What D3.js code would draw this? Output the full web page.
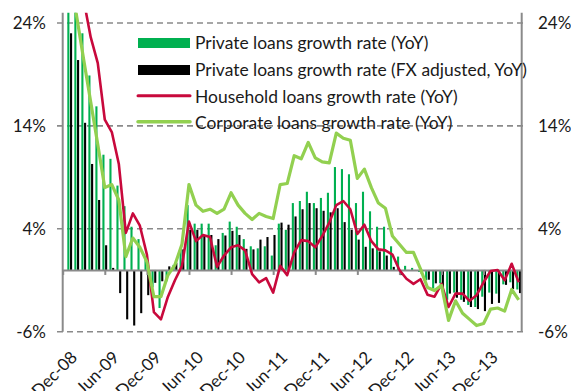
<!DOCTYPE html>
<html><head><meta charset="utf-8">
<script src="https://cdn.jsdelivr.net/npm/d3@7"></script>
<style>
html,body{margin:0;padding:0;background:#fff;}
svg{display:block;}
text{font-family:Lato,"Open Sans",sans-serif;fill:#1a1a1a;}
</style></head><body>
<svg id="chart" width="571" height="391"></svg>
<script>
const months = ["Dec-08","Jan-09","Feb-09","Mar-09","Apr-09","May-09","Jun-09","Jul-09","Aug-09","Sep-09","Oct-09","Nov-09",
"Dec-09","Jan-10","Feb-10","Mar-10","Apr-10","May-10","Jun-10","Jul-10","Aug-10","Sep-10","Oct-10","Nov-10",
"Dec-10","Jan-11","Feb-11","Mar-11","Apr-11","May-11","Jun-11","Jul-11","Aug-11","Sep-11","Oct-11","Nov-11",
"Dec-11","Jan-12","Feb-12","Mar-12","Apr-12","May-12","Jun-12","Jul-12","Aug-12","Sep-12","Oct-12","Nov-12",
"Dec-12","Jan-13","Feb-13","Mar-13","Apr-13","May-13","Jun-13","Jul-13","Aug-13","Sep-13","Oct-13","Nov-13",
"Dec-13","Jan-14","Feb-14","Mar-14","Apr-14","May-14"];

const privateLoans = [null,27,25.5,23.0,18.9,15.9,11.2,10.8,8.2,6.2,4.2,3.0,
1.0,-1.7,-3.7,-1.1,0.5,2.1,6.3,4.5,4.5,4.5,2.4,3.6,
4.7,4.2,3.0,2.3,2.1,2.3,1.4,4.5,3.9,6.5,6.7,7.6,
6.5,7.0,7.5,10.0,9.8,9.3,6.5,7.6,5.7,4.2,4.2,2.3,
1.3,0.4,0.2,-0.2,-1.0,-1.8,-1.3,-2.9,-2.2,-2.9,-3.4,-3.6,
-2.6,-2.2,-2.3,-1.4,-1.2,-1.9];

const privateLoansFX = [null,23.0,20.4,14.3,10.3,6.8,2.4,0.2,-2.25,-4.8,-5.4,-4.2,
-2.45,-1.25,-1.1,0.35,0.7,2.0,3.9,3.9,3.4,3.4,3.0,3.35,
3.8,3.4,2.05,2.0,2.95,3.2,3.4,4.6,4.4,5.2,5.9,6.5,
6.0,5.75,5.6,6.0,4.65,3.9,2.95,2.25,2.1,1.8,1.4,0.3,
-0.5,-0.1,-0.1,-0.4,-0.95,-1.3,-1.75,-2.3,-2.7,-3.1,-3.6,-3.8,
-4.0,-3.3,-3.2,-1.45,-1.85,-2.25];

const householdLoans = [30.5,29.5,28.0,26.2,22.6,20.1,14.6,13.4,10.3,3.6,5.5,4.3,
1.5,-4.1,-4.8,-2.6,-1.0,0.4,4.7,2.8,3.4,3.2,0.3,1.4,
2.2,2.4,1.9,-0.4,-1.2,-0.8,-2.2,0.4,-0.5,1.7,2.9,2.8,
2.2,3.3,4.6,6.3,6.7,5.9,3.5,4.4,2.8,2.0,1.9,1.5,
0.0,-0.85,-1.35,-0.9,-2.4,-2.6,-1.35,-3.6,-2.3,-2.3,-3.0,-2.45,
-1.2,-0.1,0.0,-1.0,0.6,-1.2];

const corporateLoans = [31,28.8,24.6,20.4,16.3,12.2,8.0,8.3,6.8,1.3,3.1,2.2,
0.8,-2.6,-2.6,-0.5,0.5,2.5,8.3,6.3,5.7,5.9,5.5,5.9,
7.5,6.3,5.5,4.9,5.5,5.2,5.0,8.3,8.4,11.1,10.8,12.4,
10.9,10.5,10.4,13.3,12.8,12.6,8.9,9.8,8.0,6.5,6.0,3.3,
2.5,1.7,1.7,0.1,-1.7,-2.0,-1.5,-4.9,-3.0,-4.2,-4.8,-5.4,
-5.2,-3.8,-3.7,-4.0,-1.9,-2.9];

const yTicks = [-6, 4, 14, 24];
const xTickLabels = ["Dec-08","Jun-09","Dec-09","Jun-10","Dec-10","Jun-11","Dec-11","Jun-12","Dec-12","Jun-13","Dec-13"];
const legendLabels = ["Private loans growth rate (YoY)","Private loans growth rate (FX adjusted, YoY)",
"Household loans growth rate (YoY)","Corporate loans growth rate (YoY)"];

const C = {green:"#00B050", black:"#000000", red:"#C8093C", lime:"#92D050", axis:"#8a8a8a"};
const plot = {left:62.7, right:521.7, top:12.7, bottom:331.7};
const svg = d3.select("#chart");

const x = d3.scaleLinear().domain([0, 65.43]).range([plot.left, plot.right]);
const y = d3.scaleLinear().domain([-6, 25]).range([plot.bottom, plot.top]);

svg.append("defs").append("clipPath").attr("id","clip").append("rect")
  .attr("x",plot.left).attr("y",plot.top).attr("width",plot.right-plot.left).attr("height",plot.bottom-plot.top);

// gridlines
svg.append("g").selectAll("line").data(yTicks).join("line")
  .attr("x1",57).attr("x2",527).attr("y1",d=>y(d)).attr("y2",d=>y(d))
  .attr("stroke",C.axis).attr("stroke-width",1.6).attr("stroke-dasharray","6,4");

// y labels
const fsAxis = 17;
svg.append("g").attr("transform",`translate(46,0)`)
  .call(d3.axisLeft(y).tickValues(yTicks).tickSize(0).tickPadding(0).tickFormat(d=>d+"%"))
  .call(g=>g.select(".domain").remove())
  .selectAll("text").attr("font-size",fsAxis).attr("font-family","Lato").attr("fill","#1a1a1a");
svg.append("g").attr("transform",`translate(538,0)`)
  .call(d3.axisRight(y).tickValues(yTicks).tickSize(0).tickPadding(0).tickFormat(d=>d+"%"))
  .call(g=>g.select(".domain").remove())
  .selectAll("text").attr("font-size",fsAxis).attr("font-family","Lato").attr("fill","#1a1a1a");

// bars
const bars = svg.append("g").attr("clip-path","url(#clip)");
const idx = d3.range(months.length);
bars.selectAll("rect.g").data(idx.filter(i=>privateLoans[i]!=null)).join("rect")
  .attr("x",i=>x(i)-2.4).attr("width",2.1)
  .attr("y",i=>Math.min(y(0),y(privateLoans[i]))).attr("height",i=>Math.abs(y(0)-y(privateLoans[i])))
  .attr("fill",C.green);
bars.selectAll("rect.b").data(idx.filter(i=>privateLoansFX[i]!=null)).join("rect")
  .attr("x",i=>x(i)+0.3).attr("width",2.1)
  .attr("y",i=>Math.min(y(0),y(privateLoansFX[i]))).attr("height",i=>Math.abs(y(0)-y(privateLoansFX[i])))
  .attr("fill",C.black);

// axes lines
svg.append("line").attr("x1",plot.left).attr("x2",plot.left).attr("y1",plot.top).attr("y2",plot.bottom)
  .attr("stroke",C.axis).attr("stroke-width",2);
svg.append("line").attr("x1",plot.right).attr("x2",plot.right).attr("y1",plot.top).attr("y2",plot.bottom)
  .attr("stroke",C.axis).attr("stroke-width",2);

const tickIdx = xTickLabels.map(l=>months.indexOf(l));
svg.append("g").attr("transform",`translate(0,${y(0)})`)
  .call(d3.axisBottom(x).tickValues(tickIdx).tickSize(5).tickSizeOuter(0).tickFormat(""))
  .call(g=>g.selectAll("path,line").attr("stroke",C.axis).attr("stroke-width",2));

// x labels
svg.append("g").selectAll("text").data(tickIdx).join("text")
  .attr("transform",i=>`translate(${x(i)+7},350) rotate(-45)`)
  .attr("text-anchor","end").attr("dy","0.7em").attr("font-size",fsAxis)
  .text(i=>months[i]);

// lines
const lineGen = arr => d3.line().x((d,i)=>x(i)).y(d=>y(d))(arr);
const lines = svg.append("g").attr("clip-path","url(#clip)");
lines.append("path").attr("d",lineGen(householdLoans)).attr("fill","none")
  .attr("stroke",C.red).attr("stroke-width",2.6).attr("stroke-linejoin","round");
lines.append("path").attr("d",lineGen(corporateLoans)).attr("fill","none")
  .attr("stroke",C.lime).attr("stroke-width",3.2).attr("stroke-linejoin","round");

// legend
const leg = svg.append("g");
const rowsY = [43, 70, 96.7, 122.7];
leg.append("rect").attr("x",138).attr("y",rowsY[0]-5).attr("width",52).attr("height",10).attr("fill",C.green);
leg.append("rect").attr("x",138).attr("y",rowsY[1]-5).attr("width",52).attr("height",10).attr("fill",C.black);
leg.append("line").attr("x1",138).attr("x2",190).attr("y1",rowsY[2]-1).attr("y2",rowsY[2]-1)
  .attr("stroke",C.red).attr("stroke-width",3).attr("stroke-linecap","round");
leg.append("line").attr("x1",138).attr("x2",190).attr("y1",rowsY[3]-1).attr("y2",rowsY[3]-1)
  .attr("stroke",C.lime).attr("stroke-width",3.5).attr("stroke-linecap","round");
const legText = leg.selectAll("text").data(legendLabels).join("text")
  .attr("x",195).attr("y",(d,i)=>rowsY[i]).attr("dy","0.35em").attr("font-size",16).text(d=>d);
const longest = legText.nodes()[1].getComputedTextLength();
const fsLeg = 16*332/longest;
legText.attr("font-size",fsLeg);
</script>
</body></html>
